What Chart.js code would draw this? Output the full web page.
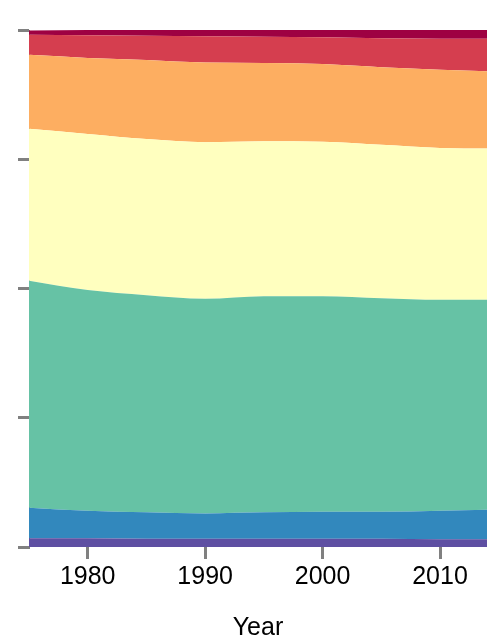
<!DOCTYPE html>
<html>
<head>
<meta charset="utf-8">
<script src="https://cdn.jsdelivr.net/npm/chart.js@4"></script>
<style>
  html, body { margin: 0; padding: 0; background: #fff; }
  #wrap { width: 493px; height: 641px; }
</style>
</head>
<body>
<div id="wrap"><canvas id="areaChart" width="493" height="641"></canvas></div>
<script>
// years and shares (percent) of each band, bottom to top
const years = [1975, 1980, 1985, 1990, 1995, 2000, 2005, 2010, 2014];
const xTickValues = [1980, 1990, 2000, 2010];
const yTickValues = [0, 25, 50, 75, 100];

const purple = [1.7, 1.7, 1.6, 1.6, 1.6, 1.6, 1.6, 1.5, 1.5];
const blue   = [5.9, 5.3, 5.1, 4.9, 5.1, 5.2, 5.2, 5.5, 5.7];
const teal   = [43.9, 42.7, 42.0, 41.5, 41.8, 41.7, 41.3, 40.8, 40.6];
const yellow = [29.4, 30.2, 30.2, 30.3, 30.0, 29.9, 29.7, 29.4, 29.3];
const orange = [14.3, 14.7, 15.3, 15.4, 15.1, 15.0, 15.0, 15.1, 14.9];
const red    = [3.9, 4.4, 4.7, 5.1, 5.1, 5.2, 5.6, 6.0, 6.3];
const darkRed = [0.8, 1.0, 1.1, 1.2, 1.3, 1.4, 1.6, 1.7, 1.7];

const series = [purple, blue, teal, yellow, orange, red, darkRed];
const colors = ['#5e4fa2', '#3288bd', '#66c2a5', '#ffffbf', '#fdae61', '#d53e4f', '#9e0142'];

const datasets = series.map((vals, i) => ({
    data: vals.map((v, j) => ({ x: years[j], y: v })),
    backgroundColor: colors[i],
    borderColor: colors[i],
    borderWidth: 0,
    pointRadius: 0,
    fill: i === 0 ? 'origin' : '-1',
    cubicInterpolationMode: 'monotone'
}));

const tickFont = { family: '"Liberation Sans", Arial, sans-serif', size: 25 };

new Chart(document.getElementById('areaChart').getContext('2d'), {
    type: 'line',
    data: { datasets: datasets },
    options: {
        responsive: false,
        animation: false,
        layout: { padding: { top: 30, right: 6, left: 0, bottom: 0 } },
        plugins: { legend: { display: false }, tooltip: { enabled: false } },
        scales: {
            x: {
                type: 'linear',
                min: 1975,
                max: 2014,
                afterBuildTicks: (scale) => { scale.ticks = xTickValues.map(v => ({ value: v })); },
                afterFit: (scale) => { scale.height = 94; },
                grid: { drawOnChartArea: false, tickLength: 12, lineWidth: 3, color: '#808080' },
                border: { display: false },
                ticks: { font: tickFont, color: '#000', padding: 3, maxRotation: 0, callback: (v) => String(v) },
                title: { display: true, text: 'Year', font: tickFont, color: '#000', padding: { top: 0, bottom: -2 } }
            },
            y: {
                stacked: true,
                min: 0,
                max: 100,
                afterBuildTicks: (scale) => { scale.ticks = yTickValues.map(v => ({ value: v })); },
                afterFit: (scale) => { scale.width = 29; },
                grid: { drawOnChartArea: false, tickLength: 11, lineWidth: 3, color: '#808080' },
                border: { display: true, color: '#808080', width: 1 },
                ticks: { callback: () => '' }
            }
        }
    }
});
</script>
</body>
</html>
